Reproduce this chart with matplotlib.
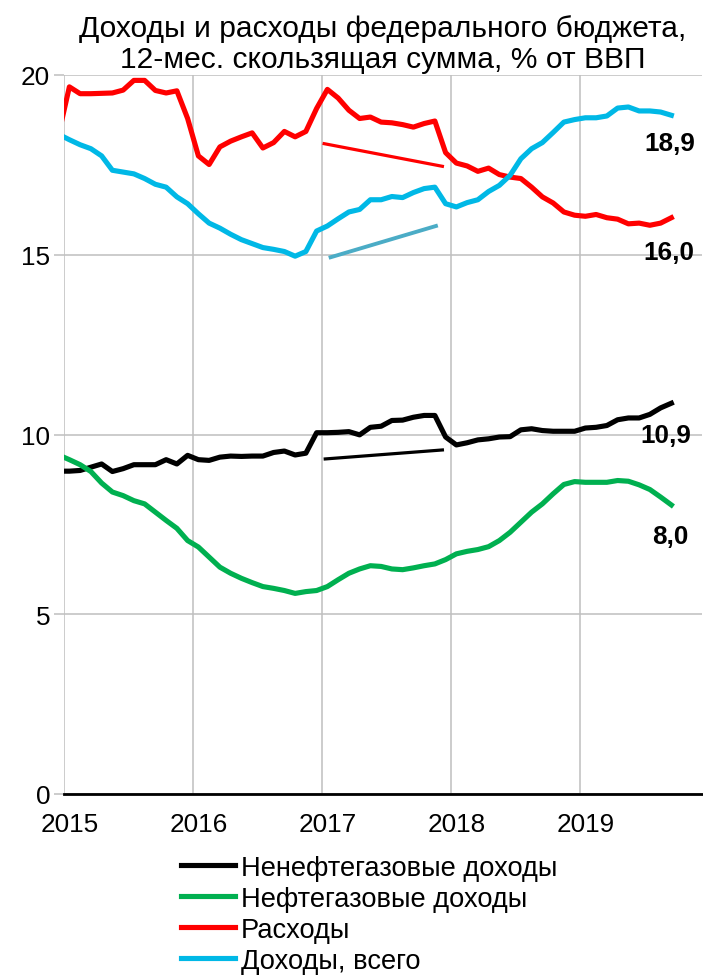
import pandas as pd
import matplotlib
matplotlib.use('Agg')
import matplotlib.pyplot as plt

plt.rcParams['font.family'] = ['Liberation Sans', 'DejaVu Sans']

# monthly points, Dec 2014 .. Sep 2019
months = pd.date_range('2014-12-01', '2019-09-01', freq='MS')

non_oil = [8.98,
           8.98, 9.00, 9.09, 9.18, 8.97, 9.05, 9.16, 9.16, 9.16, 9.30, 9.18, 9.42,
           9.30, 9.28, 9.37, 9.40, 9.39, 9.40, 9.40, 9.50, 9.54, 9.43, 9.48, 10.05,
           10.05, 10.06, 10.08, 9.99, 10.20, 10.23, 10.39, 10.40, 10.48, 10.53, 10.53, 9.93,
           9.71, 9.77, 9.85, 9.88, 9.93, 9.94, 10.13, 10.16, 10.11, 10.09, 10.09, 10.09,
           10.18, 10.20, 10.25, 10.41, 10.46, 10.46, 10.56, 10.74, 10.87]
oil = [9.43,
       9.30, 9.16, 8.97, 8.65, 8.40, 8.30, 8.16, 8.07, 7.84, 7.61, 7.39, 7.05,
       6.87, 6.59, 6.31, 6.14, 6.00, 5.88, 5.77, 5.72, 5.66, 5.58, 5.63, 5.66,
       5.77, 5.96, 6.14, 6.26, 6.35, 6.33, 6.26, 6.24, 6.29, 6.35, 6.40, 6.52,
       6.68, 6.75, 6.80, 6.88, 7.05, 7.28, 7.56, 7.84, 8.07, 8.35, 8.61, 8.69,
       8.67, 8.67, 8.67, 8.72, 8.70, 8.60, 8.47, 8.26, 8.04]
spending = [18.35,
            19.67, 19.48, 19.48, 19.49, 19.50, 19.58, 19.85, 19.85, 19.57, 19.50, 19.56, 18.79,
            17.75, 17.51, 18.00, 18.16, 18.28, 18.39, 17.97, 18.12, 18.43, 18.28, 18.43, 19.07,
            19.60, 19.36, 19.02, 18.79, 18.83, 18.69, 18.67, 18.62, 18.55, 18.65, 18.72, 17.84,
            17.55, 17.47, 17.32, 17.41, 17.23, 17.16, 17.12, 16.88, 16.61, 16.44, 16.19, 16.10,
            16.07, 16.12, 16.03, 15.99, 15.86, 15.88, 15.82, 15.88, 16.03]
revenue = [18.35,
           18.20, 18.06, 17.95, 17.75, 17.35, 17.30, 17.25, 17.12, 16.96, 16.88, 16.61, 16.42,
           16.14, 15.88, 15.74, 15.57, 15.42, 15.31, 15.20, 15.15, 15.09, 14.96, 15.09, 15.66,
           15.80, 16.00, 16.19, 16.26, 16.53, 16.53, 16.62, 16.59, 16.73, 16.84, 16.88, 16.42,
           16.33, 16.45, 16.53, 16.76, 16.93, 17.21, 17.67, 17.95, 18.12, 18.40, 18.69, 18.76,
           18.81, 18.81, 18.86, 19.08, 19.11, 19.00, 19.00, 18.97, 18.88]

# 2017 trend segments (month position from Jan 2015, value)
trend_spend_x, trend_spend_y = [24.2, 35.2], [18.09, 17.46]
trend_rev_x, trend_rev_y = [24.8, 34.6], [14.93, 15.80]
trend_nonoil_x, trend_nonoil_y = [24.3, 35.2], [9.32, 9.57]

labels = ['Ненефтегазовые доходы', 'Нефтегазовые доходы', 'Расходы', 'Доходы, всего']
end_labels = ['10,9', '8,0', '16,0', '18,9']
years = ['2015', '2016', '2017', '2018', '2019']

x = [(d.year - 2015) * 12 + d.month - 1 + 0.5 for d in months]

fig = plt.figure(figsize=(7.03, 9.78), dpi=100)
ax = fig.add_axes([64 / 703, 183 / 978, 638 / 703, 719 / 978])

series = [non_oil, oil, spending, revenue]
colors = ['black', '#00B050', '#FF0000', '#00B8E6']
lines = []
for s, c, lab in zip(series, colors, labels):
    ln, = ax.plot(x, s, color=c, lw=3.7, label=lab, solid_joinstyle='round', zorder=3)
    lines.append(ln)

ax.plot(trend_spend_x, trend_spend_y, color='#FF0000', lw=2.3, zorder=3)
ax.plot(trend_rev_x, trend_rev_y, color='#4BACC6', lw=2.8, zorder=3)
ax.plot(trend_nonoil_x, trend_nonoil_y, color='black', lw=2.3, zorder=3)

offsets = [(-4, -23), (-1, -22), (-2, -25), (-1, -20)]
for s, txt, off in zip(series, end_labels, offsets):
    ax.annotate(txt, (x[-1], s[-1]), xytext=off, textcoords='offset points',
                ha='center', va='center', fontsize=18.8, fontweight='bold', zorder=4)

ax.set_xlim(0, 59.35)
ax.set_ylim(0, 20)
ax.set_yticks([0, 5, 10, 15, 20])
ax.set_xticks([0, 12, 24, 36, 48])
ax.set_xticklabels([])
ax.set_xticks([0.5, 12.5, 24.5, 36.5, 48.5], minor=True)
ax.set_xticklabels(years, minor=True)
ax.tick_params(axis='x', which='both', length=0, labelsize=18.8, pad=13)
ax.tick_params(axis='y', length=7, width=1.1, color='#BFBFBF', labelsize=18.8, pad=3)
ax.grid(True, which='major', color='#BFBFBF', lw=1.1)
ax.set_axisbelow(True)
for side in ['top', 'right', 'left']:
    ax.spines[side].set_visible(False)
ax.spines['bottom'].set_linewidth(2)
ax.spines['bottom'].set_zorder(2.5)

ax.set_title('Доходы и расходы федерального бюджета,\n12-мес. скользящая сумма, % от ВВП',
             fontsize=21.6, pad=6, linespacing=1.12)

fig.legend(handles=lines, loc='upper left', bbox_to_anchor=(181 / 703, 1 - 856 / 978),
           frameon=False, fontsize=19.6, handlelength=2.0, handletextpad=0.2,
           labelspacing=0.18, borderpad=0, borderaxespad=0)

fig.savefig('out.png', dpi=100)
